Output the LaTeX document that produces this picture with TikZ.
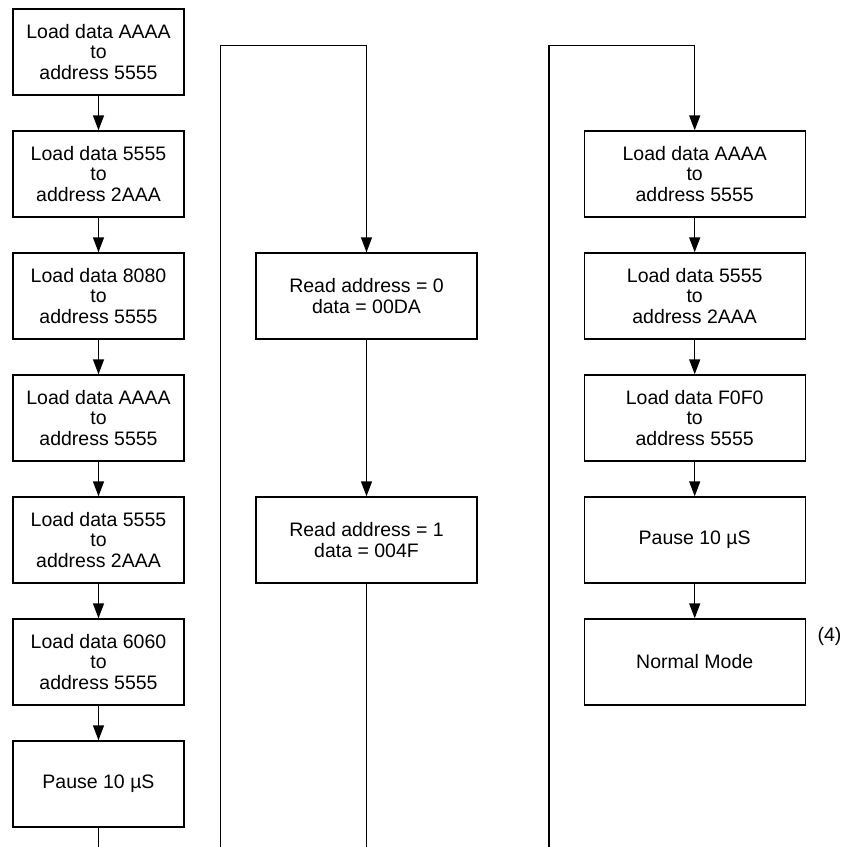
\documentclass[tikz,border=0pt]{standalone}
\usepackage{fontspec}
\setmainfont{Liberation Sans}
\usetikzlibrary{arrows.meta}

\begin{document}
\begin{tikzpicture}[
    x=1pt, y=-1pt,
    % stili per i blocchi e le frecce
    stepbox/.style = {
        draw,
        line width=1.4pt,
        align=center,
        inner sep=0,
        minimum height=86pt,
        font=\fontsize{19.5}{20.5}\selectfont
    },
    narrowbox/.style = {stepbox, minimum width=171pt},
    widebox/.style = {stepbox, minimum width=221pt},
    flow/.style = {line width=1.4pt},
    arr/.style = {flow, -{Triangle[length=15pt, width=11pt]}}
]
\useasboundingbox (0,0) rectangle (842,847);

% 1. Colonna di sinistra
\node[narrowbox] (l1) at (98.5,52)  {Load data AAAA\\to\\address 5555};
\node[narrowbox] (l2) at (98.5,174) {Load data 5555\\to\\address 2AAA};
\node[narrowbox] (l3) at (98.5,296) {Load data 8080\\to\\address 5555};
\node[narrowbox] (l4) at (98.5,418) {Load data AAAA\\to\\address 5555};
\node[narrowbox] (l5) at (98.5,540) {Load data 5555\\to\\address 2AAA};
\node[narrowbox] (l6) at (98.5,662) {Load data 6060\\to\\address 5555};
\node[narrowbox] (l7) at (98.5,784) {Pause 10 µS};
\coordinate (lend) at (98.5,847);

% 2. Colonna centrale
\node[widebox] (m1) at (366.5,296) {Read address = 0\\data = 00DA};
\node[widebox] (m2) at (366.5,540) {Read address = 1\\data = 004F};
\coordinate (mbot) at (220.7,847);
\coordinate (mtop) at (220.7,45.7);
\coordinate (mend) at (366.5,847);

% 3. Colonna di destra
\node[widebox] (r1) at (694.7,174) {Load data AAAA\\to\\address 5555};
\node[widebox] (r2) at (694.7,296) {Load data 5555\\to\\address 2AAA};
\node[widebox] (r3) at (694.7,418) {Load data F0F0\\to\\address 5555};
\node[widebox] (r4) at (694.7,540) {Pause 10 µS};
\node[widebox] (r5) at (694.7,662) {Normal Mode};
\coordinate (rbot) at (549,847);
\coordinate (rtop) at (549,45.7);

% Nota
\node[font=\fontsize{19.5}{20.5}\selectfont] (note) at (829.5,636) {(4)};

% 4. Collegamenti
\draw[arr] (l1) -- (l2);
\draw[arr] (l2) -- (l3);
\draw[arr] (l3) -- (l4);
\draw[arr] (l4) -- (l5);
\draw[arr] (l5) -- (l6);
\draw[arr] (l6) -- (l7);
\draw[flow] (l7) -- (lend);

\draw[arr] (mbot) -- (mtop) -| (m1.north);
\draw[arr] (m1) -- (m2);
\draw[flow] (m2) -- (mend);

\draw[arr] (rbot) -- (rtop) -| (r1.north);
\draw[arr] (r1) -- (r2);
\draw[arr] (r2) -- (r3);
\draw[arr] (r3) -- (r4);
\draw[arr] (r4) -- (r5);

\end{tikzpicture}
\end{document}
